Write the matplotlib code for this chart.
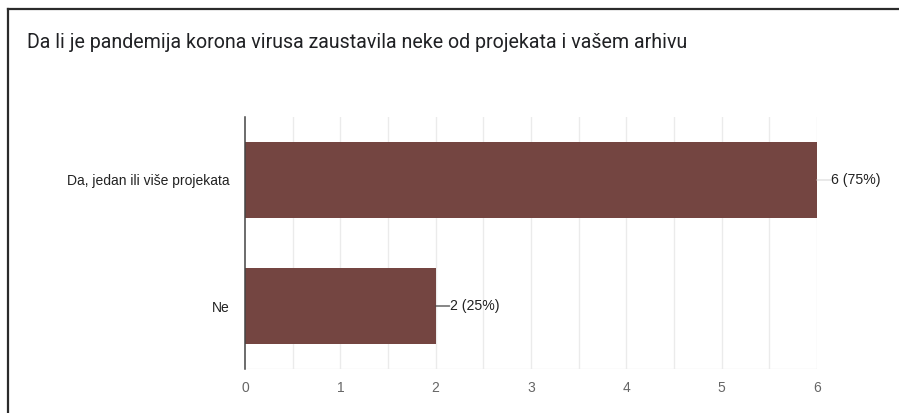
import matplotlib
matplotlib.use('Agg')
import matplotlib.pyplot as plt
from matplotlib.lines import Line2D

title = 'Da li je pandemija korona virusa zaustavila neke od projekata i vašem arhivu'
categories = ['Da, jedan ili više projekata', 'Ne']
counts = [6, 2]
percents = [75, 25]
xTicks = [0, 1, 2, 3, 4, 5, 6]

barColor = '#744541'

fig = plt.figure(figsize=(8.99, 4.13), dpi=100)
ax = fig.add_axes([245 / 899, 1 - 369 / 413, (817 - 245) / 899, (369 - 117) / 413])

yPos = list(range(len(categories)))
ax.barh(yPos, counts, height=0.61, color=barColor, zorder=3)
ax.set_ylim(len(categories) - 0.5, -0.5)
ax.set_xlim(0, max(xTicks))

# light grid every half unit
for g in [i * 0.5 for i in range(1, 2 * max(xTicks) + 1)]:
    ax.axvline(g, color='#ebebeb', lw=1, zorder=1)
ax.axhline(len(categories) - 0.5, color='#ebebeb', lw=1, zorder=1)

for s in ['top', 'right', 'bottom']:
    ax.spines[s].set_visible(False)
ax.spines['left'].set_color('#444444')
ax.spines['left'].set_linewidth(1.1)
ax.spines['left'].set_zorder(4)

ax.set_xticks(xTicks)
ax.set_xticklabels([str(t) for t in xTicks], color='#666666', fontsize=10, family='Liberation Sans')
ax.set_yticks(yPos)
ax.set_yticklabels(categories, color='#222222', fontsize=10, family='Liberation Sans')
ax.tick_params(axis='both', length=0)
ax.tick_params(axis='x', pad=9)
ax.tick_params(axis='y', pad=11)

# value labels with short leader lines
for i, (c, p) in enumerate(zip(counts, percents)):
    lineCol = '#dddddd' if c == max(counts) else '#444444'
    ax.annotate('', xy=(c, i), xytext=(14, 0), textcoords='offset pixels',
                arrowprops=dict(arrowstyle='-', color=lineCol, lw=0.9, shrinkA=0, shrinkB=0))
    ax.annotate(f'{c} ({p}%)', xy=(c, i), xytext=(14, 0), textcoords='offset pixels',
                va='center', ha='left', fontsize=10.2, color='#222222', family='Liberation Sans')

fig.text(27 / 899, 1 - 43 / 413, title, fontsize=14.1, color='#202124',
         family='Roboto', va='center', ha='left')

# page frame (left and top edges)
fig.add_artist(Line2D([8 / 899, 8 / 899], [0, 1 - 8.5 / 413], transform=fig.transFigure,
                      color='#2b2b2b', lw=1.6))
fig.add_artist(Line2D([8 / 899, 1], [1 - 8.5 / 413, 1 - 8.5 / 413], transform=fig.transFigure,
                      color='#2b2b2b', lw=1.6))

fig.savefig('out.png', dpi=100)
